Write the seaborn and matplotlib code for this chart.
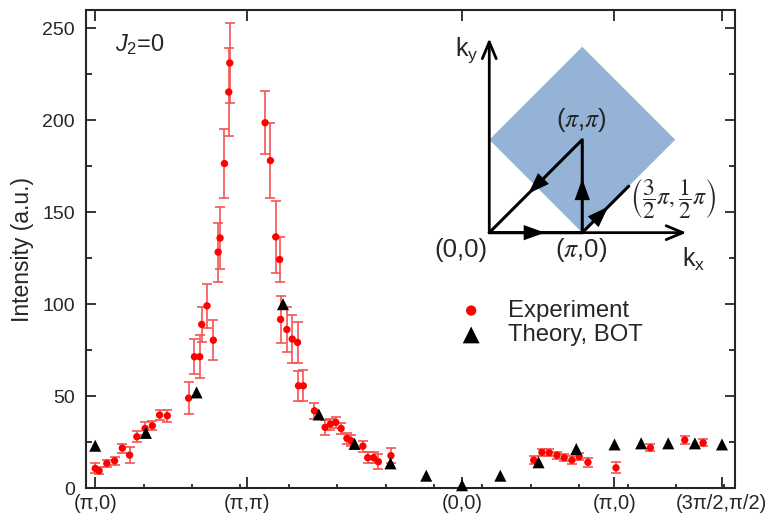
import matplotlib
matplotlib.use('Agg')

import matplotlib.pyplot as plt
import matplotlib.ticker as mticker
from matplotlib.patches import Polygon
import seaborn as sns
import pandas as pd

# ------------------------
# data (k along path, in units of 1/a)
# ------------------------
exp_k = [0.0, 0.08, 0.24, 0.40, 0.56, 0.71, 0.86, 1.03, 1.18, 1.33, 1.49, 1.93,
         2.05, 2.16, 2.20, 2.31, 2.44,
         2.54, 2.58, 2.67, 2.76, 2.78,
         3.51, 3.62, 3.73, 3.81, 3.83, 3.96, 4.07, 4.18, 4.20, 4.30, 4.53,
         4.75, 4.86, 4.97, 5.08, 5.20, 5.29, 5.53, 5.63, 5.75, 5.85, 6.11,
         9.06, 9.23, 9.38, 9.54, 9.69, 9.85, 10.00, 10.18, 10.76, 11.47, 12.18, 12.56]
exp_int = [10.7, 9.4, 13.4, 14.8, 21.7, 17.9, 27.9, 32.4, 33.9, 39.7, 39.3, 48.9,
           71.4, 71.4, 89.0, 99.1, 80.4,
           128.3, 136.0, 176.5, 215.4, 231.2,
           198.7, 178.1, 136.6, 124.3, 91.7, 86.2, 81.0, 79.2, 55.6, 55.6, 42.0,
           33.0, 34.8, 35.7, 32.4, 27.0, 25.7, 22.8, 16.5, 16.5, 14.3, 17.6,
           15.2, 19.4, 19.2, 17.8, 16.5, 15.2, 17.0, 14.0, 11.0, 21.9, 26.1, 24.6]
exp_err = [2.7, 2.0, 1.8, 2.3, 2.5, 4.5, 3.0, 3.6, 2.3, 2.7, 3.2, 8.5,
           9.4, 11.8, 9.4, 12.0, 11.0,
           16.0, 17.0, 19.0, 24.0, 22.0,
           17.0, 20.6, 19.4, 12.0, 12.7, 12.0, 13.0, 11.0, 8.0, 8.5, 4.5,
           4.0, 3.0, 3.0, 3.0, 3.0, 3.0, 3.0, 3.0, 3.0, 4.0, 4.0,
           2.2, 2.0, 2.0, 2.0, 2.0, 2.0, 2.0, 2.5, 2.9, 2.0, 2.0, 2.0]

bot_k = [0.0, 1.047, 2.094, 3.88, 4.62, 5.36, 6.10, 6.84, 7.58, 8.37, 9.16,
         9.94, 10.73, 11.28, 11.84, 12.39, 12.95]
bot_int = [23.0, 30.0, 52.0, 100.0, 40.0, 24.0, 13.4, 6.7, 1.5, 6.7, 14.0,
           21.2, 23.7, 24.3, 24.3, 24.3, 23.7]

tick_pos = [0.0, 3.1416, 7.5845, 10.7261, 12.9475]
tick_lbl = ['(π,0)', '(π,π)', '(0,0)', '(π,0)', '(3π/2,π/2)']

# Brillouin zone sketch for the inset (units of pi)
bz_diamond = [(1, 0), (2, 1), (1, 2), (0, 1)]

exp_df = pd.DataFrame({'k': exp_k, 'I': exp_int, 'err': exp_err})
bot_df = pd.DataFrame({'k': bot_k, 'I': bot_int})

sns.set_theme(style='ticks')
plt.rcParams['font.family'] = ['Liberation Sans', 'DejaVu Sans']
plt.rcParams['mathtext.fontset'] = 'custom'
plt.rcParams['mathtext.rm'] = 'Liberation Sans'
plt.rcParams['mathtext.it'] = 'Liberation Sans:italic'
plt.rcParams['mathtext.bf'] = 'Liberation Sans:bold'
plt.rcParams['axes.linewidth'] = 1.5
plt.rcParams['xtick.direction'] = 'in'
plt.rcParams['ytick.direction'] = 'in'

fig = plt.figure(figsize=(7.66, 5.21), dpi=100)
ax = fig.add_axes([0.1123, 0.0633, 0.8473, 0.9175])

# error bars + points
ax.errorbar(exp_df['k'], exp_df['I'], yerr=exp_df['err'], fmt='none',
            ecolor='#f35555', elinewidth=1.2, capsize=3.5, capthick=1.2, zorder=2)
sns.scatterplot(data=exp_df, x='k', y='I', ax=ax, color='#ff0000', marker='o',
                s=28, edgecolor='none', label='Experiment', zorder=3)
sns.scatterplot(data=bot_df, x='k', y='I', ax=ax, color='black', marker='^',
                s=75, edgecolor='none', label='Theory, BOT', zorder=4, clip_on=False)

ax.set_xlim(-0.19, 13.22)
ax.set_ylim(0, 260)
ax.set_xticks(tick_pos)
ax.set_xticklabels(tick_lbl, fontsize=14.5)
ax.xaxis.set_minor_locator(mticker.MultipleLocator(1))
ax.yaxis.set_major_locator(mticker.MultipleLocator(50))
ax.yaxis.set_minor_locator(mticker.MultipleLocator(25))
ax.tick_params(axis='y', which='major', labelsize=14, length=7, width=1.3,
               right=True, pad=8)
ax.tick_params(axis='y', which='minor', length=4, width=1.3, right=True)
ax.tick_params(axis='x', which='major', length=8, width=1.3, top=True, pad=4)
ax.tick_params(axis='x', which='minor', length=3, width=1.3)
ax.set_xlabel('')
ax.set_ylabel('Intensity (a.u.)', fontsize=16.5, labelpad=6)

ax.text(0.045, 0.913, r'$J_2$=0', transform=ax.transAxes, fontsize=17,
        va='baseline', ha='left')

leg = ax.legend(loc='center left', bbox_to_anchor=(0.5995, 0.380),
                bbox_transform=fig.transFigure, frameon=False, fontsize=17.2,
                handlelength=1.0, handletextpad=1.05, borderpad=0,
                borderaxespad=0, labelspacing=0.1, markerscale=1.4)

# ------------------------
# inset: path in the Brillouin zone
# ------------------------
ins = fig.add_axes([0.5744, 0.4626, 0.3916, 0.4798])
ins.set_xlim(-0.53, 2.696)
ins.set_ylim(-0.509, 2.18)
ins.axis('off')
ins.patch.set_alpha(0)

ins.add_patch(Polygon(bz_diamond, closed=True, facecolor='#95B3D7', edgecolor='none'))

ax_kw = dict(arrowstyle='->,head_length=0.6,head_width=0.25', lw=2, color='black',
             mutation_scale=20, shrinkA=0, shrinkB=0)
ins.annotate('', xy=(0, 2.09), xytext=(0, 0), arrowprops=ax_kw)
ins.annotate('', xy=(2.12, 0), xytext=(0, 0), arrowprops=ax_kw)

ins.plot([0, 1, 1, 0], [0, 0, 1, 0], color='black', lw=2.2)
ins.plot([1, 1.5], [0, 0.5], color='black', lw=2.2)
mid_kw = dict(arrowstyle='-|>,head_length=0.7,head_width=0.25', lw=0, color='black',
              mutation_scale=22, shrinkA=0, shrinkB=0)
ins.annotate('', xy=(0.60, 0), xytext=(0.40, 0), arrowprops=mid_kw)
ins.annotate('', xy=(1, 0.58), xytext=(1, 0.38), arrowprops=mid_kw)
ins.annotate('', xy=(0.42, 0.42), xytext=(0.60, 0.60), arrowprops=mid_kw)
ins.annotate('', xy=(1.28, 0.28), xytext=(1.12, 0.12), arrowprops=mid_kw)

ins.text(-0.24, 1.96, r'k$_{\rm y}$', fontsize=18, ha='center', va='center')
ins.text(2.20, -0.29, r'k$_{\rm x}$', fontsize=18, ha='center', va='center')
ins.text(-0.30, -0.19, '(0,0)', fontsize=18.5, ha='center', va='center')
ins.text(0.99, -0.19, r'($\pi$,0)', fontsize=18.5, ha='center', va='center',
         math_fontfamily='stix')
ins.text(0.99, 1.21, r'($\pi$,$\pi$)', fontsize=18.5, ha='center', va='center',
         math_fontfamily='stix')
ins.text(1.98, 0.36, r'$\left(\dfrac{3}{2}\pi,\dfrac{1}{2}\pi\right)$', fontsize=17,
         ha='center', va='center', math_fontfamily='stix')

plt.savefig('out.png', dpi=100)
plt.close()
